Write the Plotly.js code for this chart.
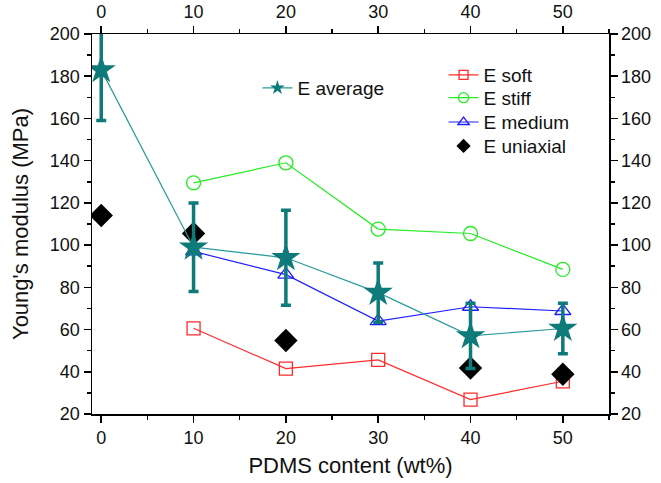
<!DOCTYPE html>
<html>
<head>
<meta charset="utf-8">
<script src="https://cdn.plot.ly/plotly-3.0.1.min.js"></script>
<style>html,body{margin:0;padding:0;background:#fff;}#chart{width:661px;height:483px;}</style>
</head>
<body>
<div id="chart"></div>
<script>
// PDMS content (wt%)
const pdmsAvg = [0, 10, 20, 30, 40, 50];
const eAverage = [183, 99, 94, 77.5, 57, 60.5];
const eAverageErr = [24, 21, 22.5, 14, 15.5, 12];

const pdmsParts = [10, 20, 30, 40, 50];
const eSoft = [60.6, 41.5, 45.6, 26.8, 35.5];
const eStiff = [129.5, 139, 107.6, 105.5, 88.5];
const eMedium = [97, 86, 64, 70.8, 68.8];

const pdmsUni = [0, 10, 20, 40, 50];
const eUniaxial = [114, 105.5, 54.8, 41.8, 38.8];

const xTicks = [0, 10, 20, 30, 40, 50];
const yTicks = [20, 40, 60, 80, 100, 120, 140, 160, 180, 200];

const font = "Liberation Sans, Arial, sans-serif";

const series = [
  {x: pdmsParts, y: eSoft, name: 'E soft', mode: 'lines+markers', color: '#ff2a2a',
   symbol: 'square-open', size: 13, legendSize: 9, legend: 'legend2'},
  {x: pdmsParts, y: eStiff, name: 'E stiff', mode: 'lines+markers', color: '#22ee22',
   symbol: 'circle-open', size: 14, legendSize: 10, legend: 'legend3'},
  {x: pdmsParts, y: eMedium, name: 'E medium', mode: 'lines+markers', color: '#2020ff',
   symbol: 'triangle-up-open', size: 14, legendSize: 10, legend: 'legend4'},
  {x: pdmsUni, y: eUniaxial, name: 'E uniaxial', mode: 'markers', color: '#000000',
   symbol: 'diamond', size: 18, legendSize: 11, legend: 'legend5'},
];

const traces = [];
series.forEach(s => {
  const open = s.symbol.indexOf('open') >= 0;
  traces.push({x: s.x, y: s.y, name: s.name, mode: s.mode, type: 'scatter', showlegend: false,
    line: {color: s.color, width: 1.2},
    marker: {symbol: s.symbol, size: s.size, color: s.color, line: {width: open ? 1.3 : 0}}});
  traces.push({x: [null], y: [null], name: s.name, mode: s.mode, type: 'scatter', legend: s.legend,
    line: {color: s.color, width: 1.2},
    marker: {symbol: s.symbol, size: s.legendSize, color: s.color, line: {width: open ? 1.3 : 0}}});
});

traces.push({x: pdmsAvg, y: eAverage, name: 'E average', mode: 'lines+markers', type: 'scatter',
  showlegend: false,
  line: {color: '#2a9a9a', width: 1.2},
  marker: {symbol: 'star', size: 22, color: '#0e7a7a'},
  error_y: {type: 'data', array: eAverageErr, visible: true, color: '#0e7a7a', thickness: 3.5, width: 5}});
traces.push({x: [null], y: [null], name: 'E average', mode: 'lines+markers', type: 'scatter',
  legend: 'legend',
  line: {color: '#2a9a9a', width: 1.2},
  marker: {symbol: 'star', size: 11, color: '#0e7a7a'}});

// invisible helper so the top/right axes render
traces.push({x: [-1], y: [20], xaxis: 'x2', yaxis: 'y2', mode: 'markers', type: 'scatter',
  marker: {opacity: 0}, showlegend: false, hoverinfo: 'skip'});

const axisCommon = {
  showline: true, linecolor: '#000', linewidth: 1.5,
  ticks: 'outside', ticklen: 7, tickwidth: 1.5, tickcolor: '#000',
  showgrid: false, zeroline: false,
  tickfont: {family: font, size: 18, color: '#111'}
};
const minorX = {dtick: 5, tick0: 0, ticks: 'outside', ticklen: 4, tickwidth: 1.5, tickcolor: '#000'};
const minorY = {dtick: 10, tick0: 0, ticks: 'outside', ticklen: 4, tickwidth: 1.5, tickcolor: '#000'};

const legendBase = {xanchor: 'left', yanchor: 'top', bgcolor: 'rgba(0,0,0,0)',
  font: {family: font, size: 19, color: '#111'}};

const layout = {
  width: 661, height: 483,
  margin: {l: 92, r: 52, t: 34, b: 69},
  paper_bgcolor: '#fff', plot_bgcolor: '#fff',
  font: {family: font, color: '#111'},
  xaxis: Object.assign({}, axisCommon, {
    range: [-1, 55], tickvals: xTicks, ticktext: xTicks.map(String), minor: minorX,
    title: {text: 'PDMS content (wt%)', font: {family: font, size: 22, color: '#111'}, standoff: 10}
  }),
  xaxis2: Object.assign({}, axisCommon, {
    range: [-1, 55], tickvals: xTicks, ticktext: xTicks.map(String), minor: minorX,
    overlaying: 'x', side: 'top', anchor: 'y'
  }),
  yaxis: Object.assign({}, axisCommon, {
    range: [20, 200], tickvals: yTicks, ticktext: yTicks.map(String), minor: minorY,
    title: {text: "Young's modulus (MPa)", font: {family: font, size: 22, color: '#111'}, standoff: 15}
  }),
  yaxis2: Object.assign({}, axisCommon, {
    range: [20, 200], tickvals: yTicks, ticktext: yTicks.map(String), minor: minorY,
    overlaying: 'y', side: 'right', anchor: 'x'
  }),
  legend: Object.assign({}, legendBase, {x: 0.32, y: 0.908}),
  legend2: Object.assign({}, legendBase, {x: 0.68, y: 0.942}),
  legend3: Object.assign({}, legendBase, {x: 0.68, y: 0.882}),
  legend4: Object.assign({}, legendBase, {x: 0.68, y: 0.818}),
  legend5: Object.assign({}, legendBase, {x: 0.68, y: 0.755}),
  showlegend: true
};

Plotly.newPlot('chart', traces, layout, {staticPlot: true});
</script>
</body>
</html>
